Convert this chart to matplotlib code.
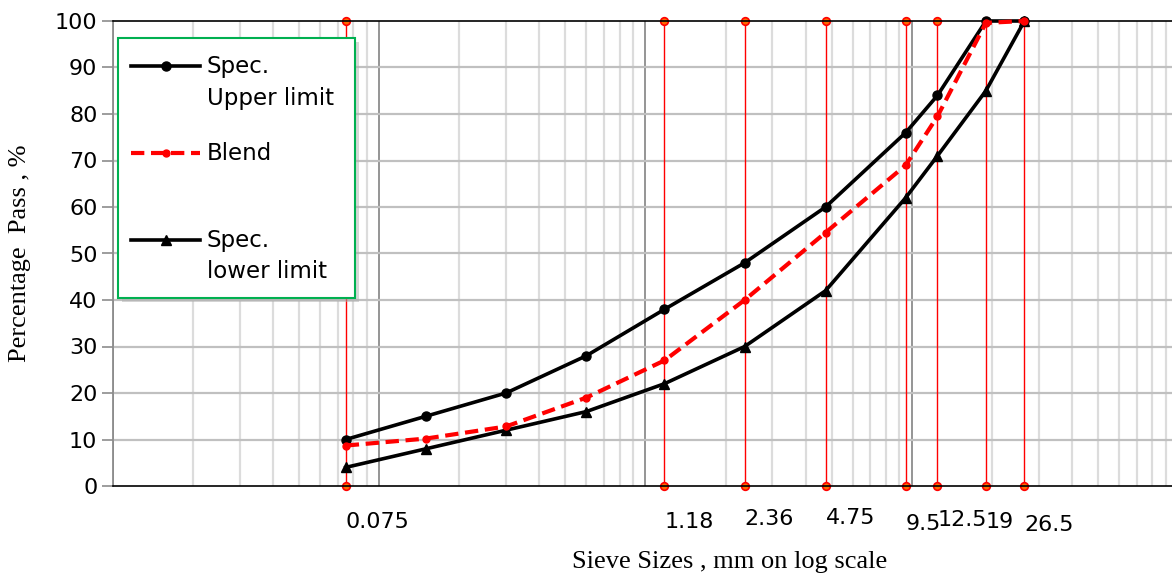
import matplotlib
matplotlib.use("Agg")
import matplotlib.pyplot as plt
from matplotlib.lines import Line2D
from matplotlib.patches import Rectangle
from matplotlib.ticker import FixedLocator, NullFormatter

# ---- data ----
sieves = [0.075, 0.15, 0.3, 0.6, 1.18, 2.36, 4.75, 9.5, 12.5, 19, 26.5]
upper = [10, 15, 20, 28, 38, 48, 60, 76, 84, 100, 100]
blend = [8.7, 10.2, 12.8, 19, 27, 40, 54.5, 69, 79.5, 99.6, 100]
lower = [4, 8, 12, 16, 22, 30, 42, 62, 71, 85, 100]
ref_sizes = [0.075, 1.18, 2.36, 4.75, 9.5, 12.5, 19, 26.5]
ref_labels = ["0.075", "1.18", "2.36", "4.75", "9.5", "12.5", "19", "26.5"]
ref_label_y = [-7.7, -7.7, -7.2, -6.8, -8.2, -7.3, -7.7, -8.4]
ytick_vals = [0, 10, 20, 30, 40, 50, 60, 70, 80, 90, 100]

W, H = 1172, 576
fig = plt.figure(figsize=(W / 100, H / 100), dpi=100)
ax = fig.add_axes([112.7 / W, (H - 486) / H, (1178 - 112.7) / W, (486 - 21) / H])
ax.set_xscale("log")
ax.set_xlim(0.01, 100)
ax.set_ylim(0, 100)

# grid
major_x = [0.01, 0.1, 1, 10, 100]
minor_x = [m * d for d in [0.01, 0.1, 1, 10] for m in range(2, 10)]
for v in minor_x:
    ax.axvline(v, color="#dcdcdc", lw=1.6, zorder=0)
for v in major_x:
    ax.axvline(v, color="#8c8c8c", lw=1.3, zorder=0.5)
for v in ytick_vals[1:-1]:
    ax.axhline(v, color="#c0c0c0", lw=1.6, zorder=0.6)

ax.xaxis.set_major_locator(FixedLocator([]))
ax.xaxis.set_minor_locator(FixedLocator([]))
ax.xaxis.set_major_formatter(NullFormatter())
ax.xaxis.set_minor_formatter(NullFormatter())
ax.set_yticks(ytick_vals)
ax.tick_params(axis="y", length=8, width=1.2, color="#8c8c8c", pad=3,
               labelsize=16, labelcolor="black")
for lab in ax.get_yticklabels():
    lab.set_fontfamily("DejaVu Sans")

ax.spines["left"].set_color("#8c8c8c")
ax.spines["left"].set_linewidth(1.3)
ax.spines["bottom"].set_color("black")
ax.spines["bottom"].set_linewidth(1.2)
ax.spines["top"].set_color("black")
ax.spines["top"].set_linewidth(1.2)
ax.spines["right"].set_visible(False)

# red reference lines
for s in ref_sizes:
    ax.plot([s, s], [0, 100], color="red", lw=1.0, zorder=2,
            marker="o", ms=5.5, mfc="#ff6a00", mec="red", mew=1.2, clip_on=False)

# series
ax.plot(sieves, upper, color="black", lw=2.6, marker="o", ms=6.5, zorder=4, clip_on=False)
ax.plot(sieves, lower, color="black", lw=2.6, marker="^", ms=6.5, zorder=4, clip_on=False)
ax.plot(sieves, blend, color="red", lw=3.0, ls=(0, (3.2, 1.6)), marker="o", ms=5,
        mfc="red", mec="red", zorder=5, clip_on=False)

# sieve labels
for s, lab, yy in zip(ref_sizes, ref_labels, ref_label_y):
    ax.text(s, yy, lab, ha="left", va="center", fontsize=16,
            family="DejaVu Sans", clip_on=False)

# axis titles
fig.text(730 / W, 1 - 562 / H, "Sieve Sizes , mm on log scale", ha="center", va="center",
         fontsize=19, family="Liberation Serif")
fig.text(20 / W, 1 - 253 / H, "Percentage  Pass , %", ha="center", va="center",
         rotation=90, fontsize=19, family="Liberation Serif")

# legend (manual)
def fx(px):
    return px / W

def fy(py):
    return 1 - py / H

lx0, ly0, lx1, ly1 = 118, 38, 355, 298
fig.patches.append(Rectangle((fx(lx0 + 4), fy(ly1 + 4)), fx(lx1 - lx0), (ly1 - ly0) / H,
                             transform=fig.transFigure, facecolor="#b0b0b0", alpha=0.5,
                             edgecolor="none", zorder=9))
fig.patches.append(Rectangle((fx(lx0), fy(ly1)), fx(lx1 - lx0), (ly1 - ly0) / H,
                             transform=fig.transFigure, facecolor="white",
                             edgecolor="#00b050", lw=1.5, zorder=10))
entries = [
    (66, ["Spec.", "Upper limit"], dict(color="black", lw=2.6, ls="-"), "o", 6.5),
    (153, ["Blend"], dict(color="red", lw=3.0, ls=(0, (3.2, 1.6))), "o", 5),
    (240, ["Spec.", "lower limit"], dict(color="black", lw=2.6, ls="-"), "^", 6.5),
]
for py, lines, style, mk, msz in entries:
    fig.add_artist(Line2D([fx(131), fx(200)], [fy(py), fy(py)],
                          transform=fig.transFigure, zorder=11, **style))
    fig.add_artist(Line2D([fx(165.5)], [fy(py)], transform=fig.transFigure, zorder=12,
                          color=style["color"], marker=mk, ms=msz, ls="none"))
    for i, t in enumerate(lines):
        fig.text(fx(207), fy(py + 32 * i), t, ha="left", va="center", fontsize=16.5,
                 family="DejaVu Sans", zorder=12)

fig.savefig("out.png", dpi=100)
